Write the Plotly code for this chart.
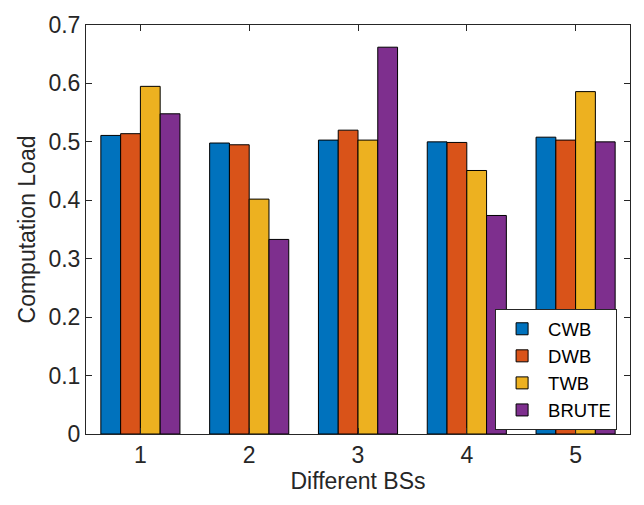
import plotly.graph_objects as go

categories = [1, 2, 3, 4, 5]
tick_labels = ["1", "2", "3", "4", "5"]
series_names = ["CWB", "DWB", "TWB", "BRUTE"]
cwb = [0.511, 0.498, 0.503, 0.500, 0.508]
dwb = [0.514, 0.495, 0.520, 0.499, 0.503]
twb = [0.595, 0.402, 0.503, 0.451, 0.586]
brute = [0.548, 0.333, 0.662, 0.374, 0.500]
colors = ["#0072BD", "#D95319", "#EDB120", "#7E2F8E"]

fig = go.Figure()
for name, vals, c in zip(series_names, [cwb, dwb, twb, brute], colors):
    fig.add_trace(go.Bar(x=categories, y=vals, name=name,
                         marker=dict(color=c, line=dict(color="black", width=1))))

axis_common = dict(showline=True, linecolor="#262626", linewidth=1, mirror="ticks",
                   ticks="inside", ticklen=6, tickcolor="#262626", showgrid=False,
                   zeroline=False, tickfont=dict(size=23, color="#262626"))

fig.update_layout(
    width=644, height=505,
    margin=dict(l=86, r=14, t=16, b=71),
    paper_bgcolor="white", plot_bgcolor="white",
    font=dict(family="Liberation Sans, Arial, sans-serif", color="#262626", size=23),
    barmode="group", bargap=0.273, bargroupgap=0,
    showlegend=True,
    legend=dict(x=0.752, y=0.305, xanchor="left", yanchor="top",
                bordercolor="#262626", borderwidth=1, bgcolor="white",
                font=dict(size=18.5, color="black"), tracegroupgap=0,
                itemwidth=42),
    xaxis=dict(range=[0.5, 5.5], tickvals=categories, ticktext=tick_labels,
               title=dict(text="Different BSs", font=dict(size=23), standoff=2),
               **axis_common),
    yaxis=dict(range=[0, 0.7], tickvals=[0, 0.1, 0.2, 0.3, 0.4, 0.5, 0.6, 0.7],
               ticktext=["0", "0.1", "0.2", "0.3", "0.4", "0.5", "0.6", "0.7"],
               title=dict(text="Computation Load", font=dict(size=23), standoff=6),
               **axis_common),
)

fig.write_html("out.html")
